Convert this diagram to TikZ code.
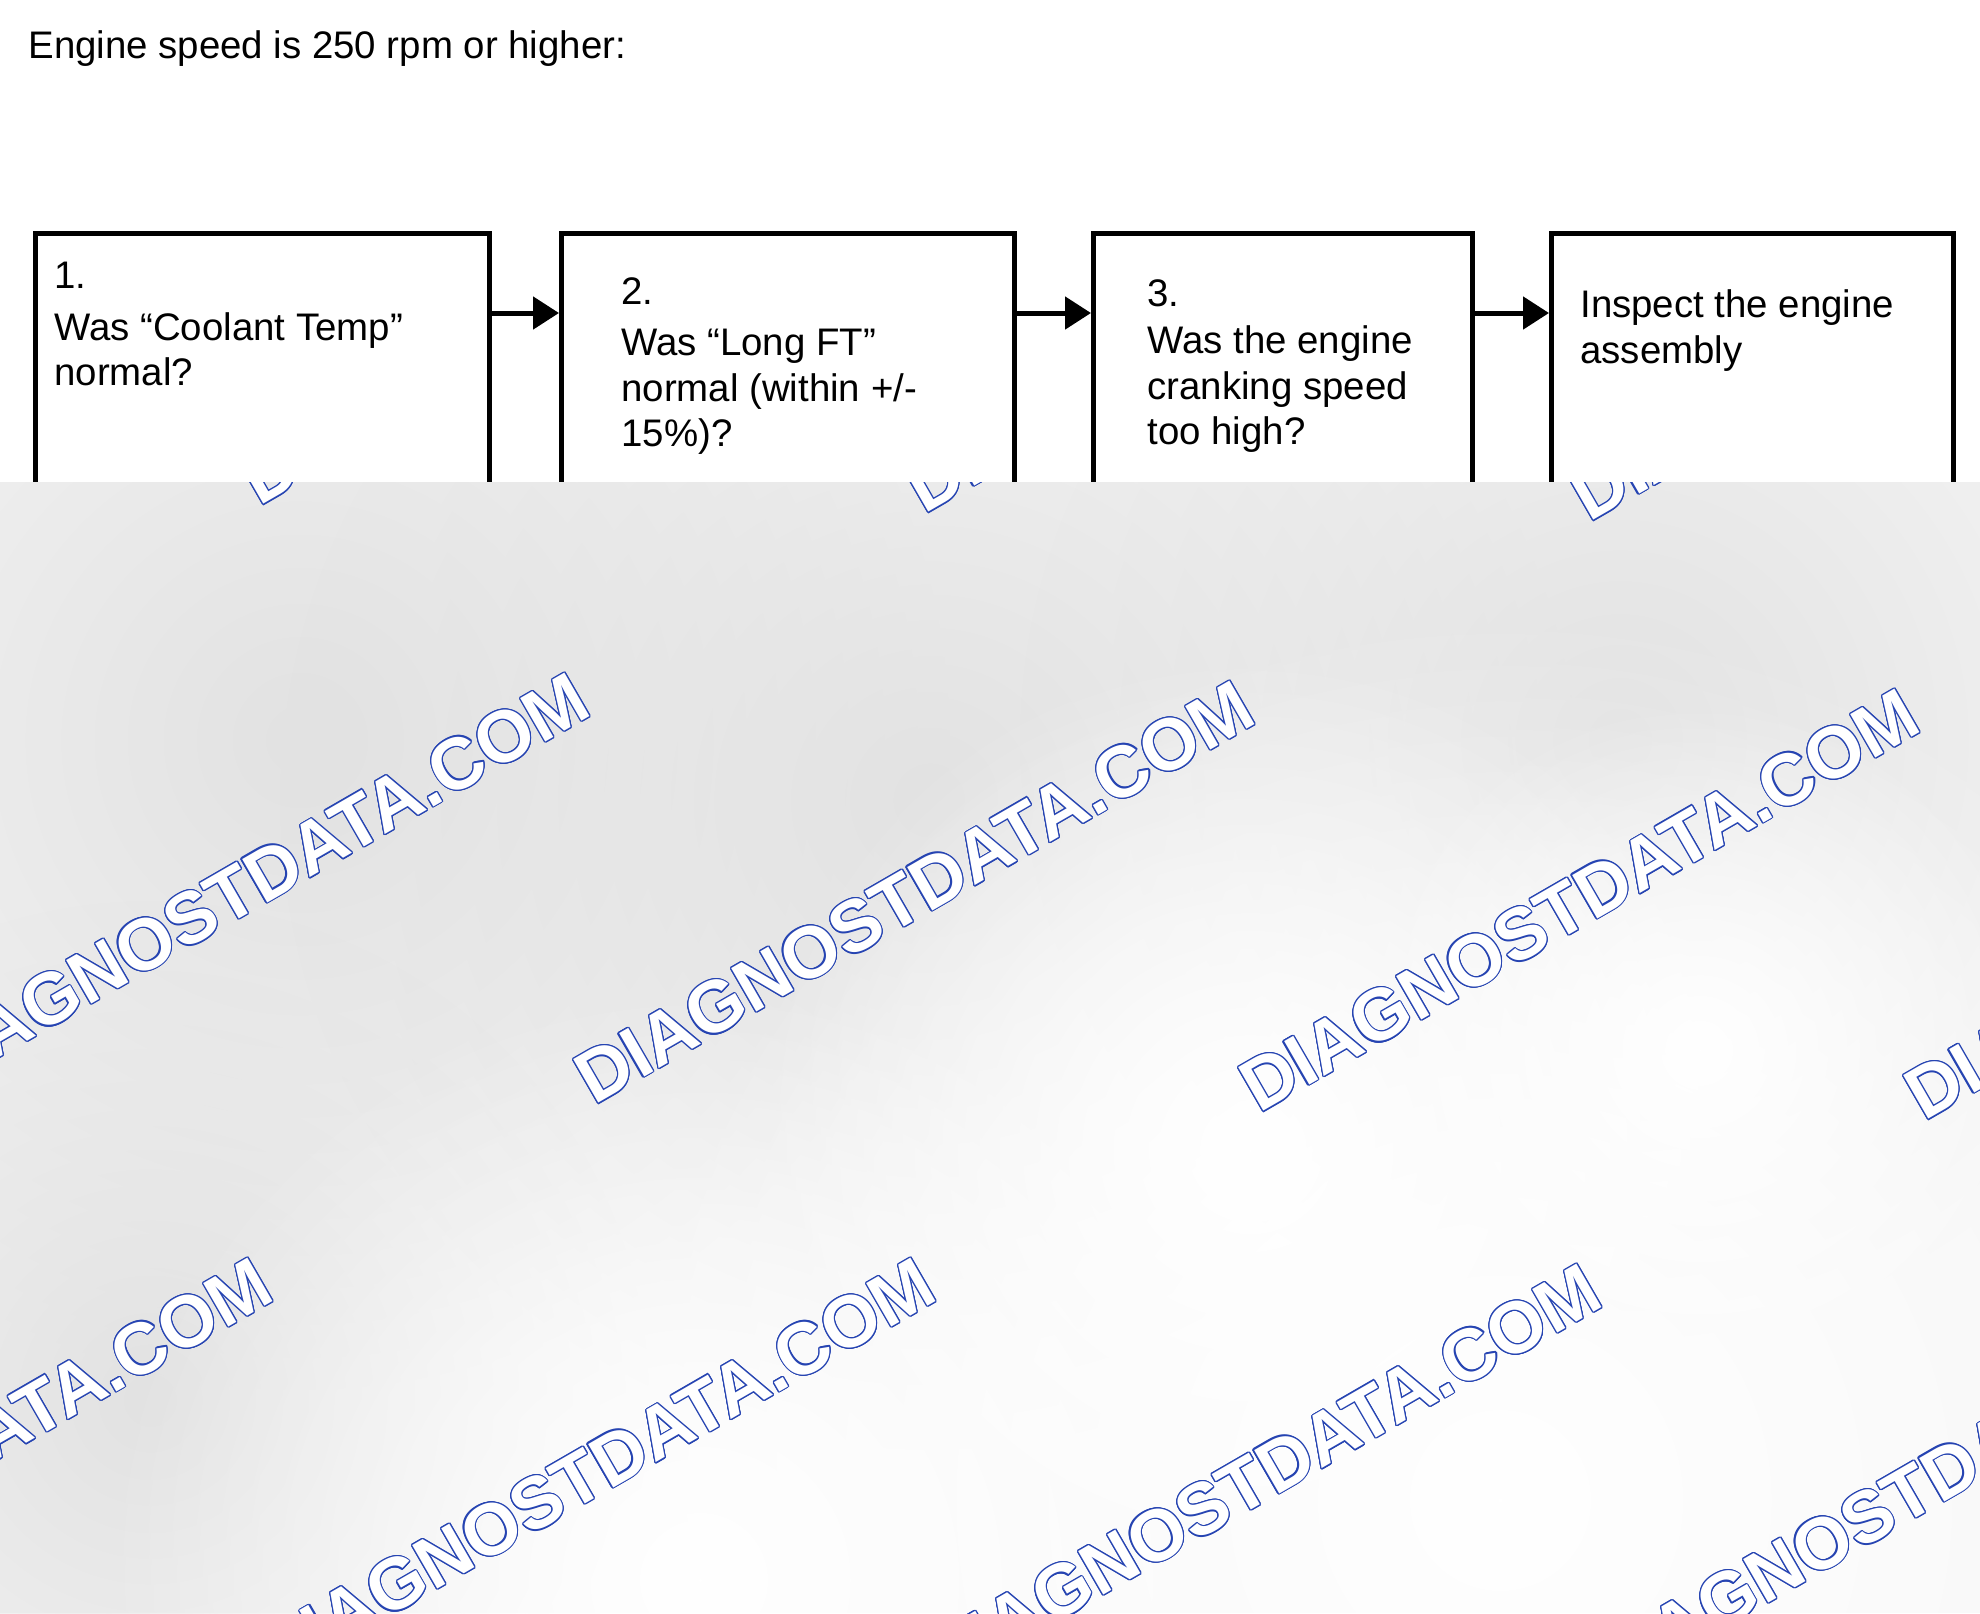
\documentclass[tikz,border=0pt]{standalone}
\usepackage{fontspec}
\setmainfont{Liberation Sans}
\usepackage{tikz}
\usepackage[copies]{contour}
\usetikzlibrary{arrows.meta, fadings}
\definecolor{wmCol}{RGB}{38,68,178}
\definecolor{backCol}{RGB}{245,245,245}
\definecolor{blobCol}{RGB}{226,226,226}
\tikzset{myBox/.style={draw=black, line width=2.6pt, rectangle, anchor=north west, minimum height=200pt, inner sep=0pt}}
\tikzset{myText/.style={anchor=north west, inner sep=0pt, align=left, font=\fontsize{19.2pt}{22.75pt}\selectfont}}
\tikzset{myArrow/.style={line width=2.5pt, -{Triangle[length=13pt, width=16pt]}}}
\tikzset{myWmark/.style={anchor=base west, rotate=30, inner sep=0pt, text=white, font=\bfseries\fontsize{36.5pt}{36.5pt}\selectfont}}
\tikzfading[name=blobFade, inner color=transparent!0, outer color=transparent!100]
\contourlength{0.6pt}

\begin{document}
\begin{tikzpicture}[x=0.5pt, y=-0.5pt]

	\useasboundingbox (0,0) rectangle (1980,1613);
	\fill[white] (0,0) rectangle (1980,1613);

	\node[myText] (title) at (28,30.5) {Engine speed is 250 rpm or higher:};

	\node[myBox, minimum width=227pt] (q1) at (33,231) {};
	\node[myBox, minimum width=226.5pt] (q2) at (559,231) {};
	\node[myBox, minimum width=189.5pt] (q3) at (1091,231) {};
	\node[myBox, minimum width=201pt] (act) at (1549,231) {};

	\node[myText] (q1txt) at (54,262) {1.\\[3pt]Was “Coolant Temp”\\normal?};
	\node[myText] (q2txt) at (621,277) {2.\\[3pt]Was “Long FT”\\normal (within +/-\\15\%)?};
	\node[myText] (q3txt) at (1147,279) {3.\\[1pt]Was the engine\\cranking speed\\too high?};
	\node[myText] (acttxt) at (1580,289.5) {Inspect the engine\\assembly};

	\foreach \a/\b in {q1/q2,q2/q3,q3/act}{
		\draw[myArrow] ([yshift=-41pt]\a.north east) -- ([yshift=-41pt]\b.north west);
	}

	\begin{scope}
		\clip (0,482) rectangle (1980,1613);
		\fill[backCol] (0,482) rectangle (1980,1613);
		\foreach \x/\y/\r in {300/740/650, 930/800/650, 1620/740/600, 150/1400/500}{
			\fill[blobCol, path fading=blobFade] (\x,\y) circle[radius=\r];
		}
		\foreach \x/\y/\r in {1500/1500/900, 700/1580/600, 1250/1150/500, 1700/1050/350}{
			\fill[white, path fading=blobFade] (\x,\y) circle[radius=\r];
		}
		\foreach \x/\y [count=\i] in {259/507, 924/515, 1589/523, -71/1098, 594/1106, 1259/1114, 1924/1122, -388/1683, 275/1683, 941/1689, 1606/1697}{
			\node[myWmark] (wm\i) at (\x,\y) {\contour{wmCol}{DIAGNOSTDATA.COM}};
		}
	\end{scope}

\end{tikzpicture}
\end{document}
